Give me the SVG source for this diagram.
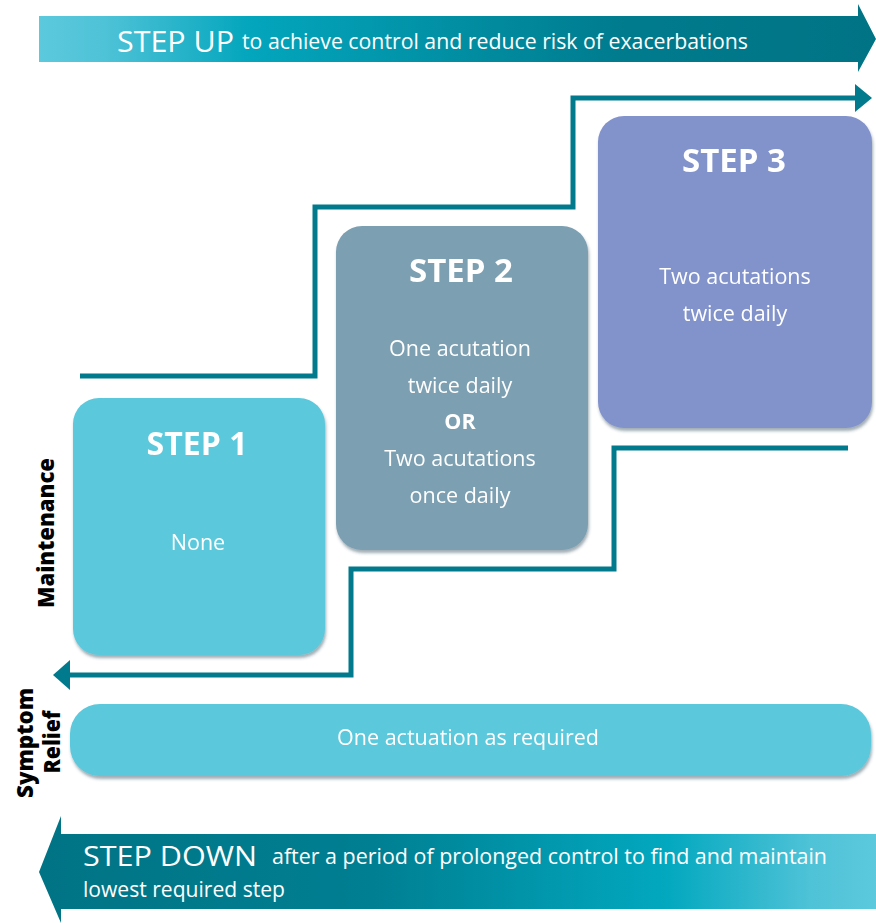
<svg xmlns="http://www.w3.org/2000/svg" width="876" height="923" viewBox="0 0 876 923">
<defs>
<linearGradient id="gUp" x1="39" y1="0" x2="876" y2="0" gradientUnits="userSpaceOnUse">
<stop offset="0" stop-color="#5cc9dd"/>
<stop offset="0.08" stop-color="#4ec2d7"/>
<stop offset="0.25" stop-color="#03a6bd"/>
<stop offset="0.7" stop-color="#007b8e"/>
<stop offset="1" stop-color="#007485"/>
</linearGradient>
<linearGradient id="gDown" x1="39" y1="0" x2="876" y2="0" gradientUnits="userSpaceOnUse">
<stop offset="0" stop-color="#007485"/>
<stop offset="0.4" stop-color="#007f92"/>
<stop offset="0.75" stop-color="#02a8bf"/>
<stop offset="0.92" stop-color="#4ec2d7"/>
<stop offset="1" stop-color="#5cc9dd"/>
</linearGradient>
<filter id="sh" x="-10%" y="-10%" width="120%" height="125%">
<feDropShadow dx="1" dy="3" stdDeviation="1.5" flood-color="#2a4a5a" flood-opacity="0.45"/>
</filter>
<style>
.band{font-family:"Open Sans","Liberation Sans",sans-serif;fill:#ffffff}
.big{font-size:29px}
.sm{font-size:22px}
.title{font-family:"Open Sans","Liberation Sans",sans-serif;font-weight:bold;font-size:32px;fill:#ffffff;text-anchor:middle}
.body{font-family:"Open Sans","Liberation Sans",sans-serif;font-size:21.5px;fill:#ffffff;text-anchor:middle}
.bold{font-weight:bold}
.side{font-family:"Open Sans","Liberation Sans",sans-serif;font-weight:800;font-size:23px;fill:#000000;text-anchor:middle}
.conn{fill:none;stroke:#007a8c;stroke-width:5}
</style>
</defs>

<g id="step-up-band">
<path d="M39,16 L858,16 L858,4 L876,39 L858,72 L858,62 L39,62 Z" fill="url(#gUp)"/>
<text class="band big" x="117" y="52" textLength="117" lengthAdjust="spacingAndGlyphs">STEP UP</text>
<text class="band sm" x="242" y="49" textLength="506" lengthAdjust="spacingAndGlyphs">to achieve control and reduce risk of exacerbations</text>
</g>

<g id="connectors">
<path class="conn" d="M80,376 L315,376 L315,207 L573,207 L573,98 L856,98"/>
<path d="M855,84 L872,98 L855,112 Z" fill="#007a8c"/>
<path class="conn" d="M848,448 L614,448 L614,569 L351,569 L351,675 L68,675"/>
<path d="M70,660 L53,675 L70,690 Z" fill="#007a8c"/>
</g>

<g id="step1" filter="url(#sh)">
<rect x="73" y="398" width="252" height="257" rx="26" fill="#5bc8dc"/>
<text class="title" x="197" y="455" textLength="101" lengthAdjust="spacingAndGlyphs">STEP 1</text>
<text class="body" x="198" y="550">None</text>
</g>

<g id="step2" filter="url(#sh)">
<rect x="336" y="226" width="252" height="324" rx="26" fill="#7b9fb2"/>
<text class="title" x="461" y="282" textLength="104" lengthAdjust="spacingAndGlyphs">STEP 2</text>
<text class="body" x="460" y="356">One acutation</text>
<text class="body" x="460" y="393">twice daily</text>
<text class="body bold" x="460" y="429">OR</text>
<text class="body" x="460" y="466">Two acutations</text>
<text class="body" x="460" y="503">once daily</text>
</g>

<g id="step3" filter="url(#sh)">
<rect x="598" y="116" width="274" height="312" rx="26" fill="#8293cb"/>
<text class="title" x="734" y="172" textLength="104" lengthAdjust="spacingAndGlyphs">STEP 3</text>
<text class="body" x="735" y="284">Two acutations</text>
<text class="body" x="735" y="321">twice daily</text>
</g>

<g id="symptom-relief" filter="url(#sh)">
<rect x="70" y="704" width="801" height="72" rx="30" fill="#5bc8dc"/>
<text class="body" x="468" y="745">One actuation as required</text>
</g>

<g id="label-maintenance">
<text class="side" transform="translate(54,533) rotate(-90)" textLength="150" lengthAdjust="spacingAndGlyphs">Maintenance</text>
</g>

<g id="label-symptom-relief">
<text class="side" transform="translate(33,743) rotate(-90)" textLength="110" lengthAdjust="spacingAndGlyphs">Symptom</text>
<text class="side" transform="translate(60,742) rotate(-90)" textLength="63" lengthAdjust="spacingAndGlyphs">Relief</text>
</g>

<g id="step-down-band">
<path d="M876,834 L61,834 L61,816 L39,872 L61,923 L61,909 L876,909 Z" fill="url(#gDown)"/>
<text class="band" x="83" y="866" font-size="27" textLength="174" lengthAdjust="spacingAndGlyphs">STEP DOWN</text>
<text class="band" x="83" y="897" font-size="21" textLength="202" lengthAdjust="spacingAndGlyphs">lowest required step</text>
<text class="band sm" x="272" y="864" textLength="555" lengthAdjust="spacingAndGlyphs">after a period of prolonged control to find and maintain</text>
</g>
</svg>
